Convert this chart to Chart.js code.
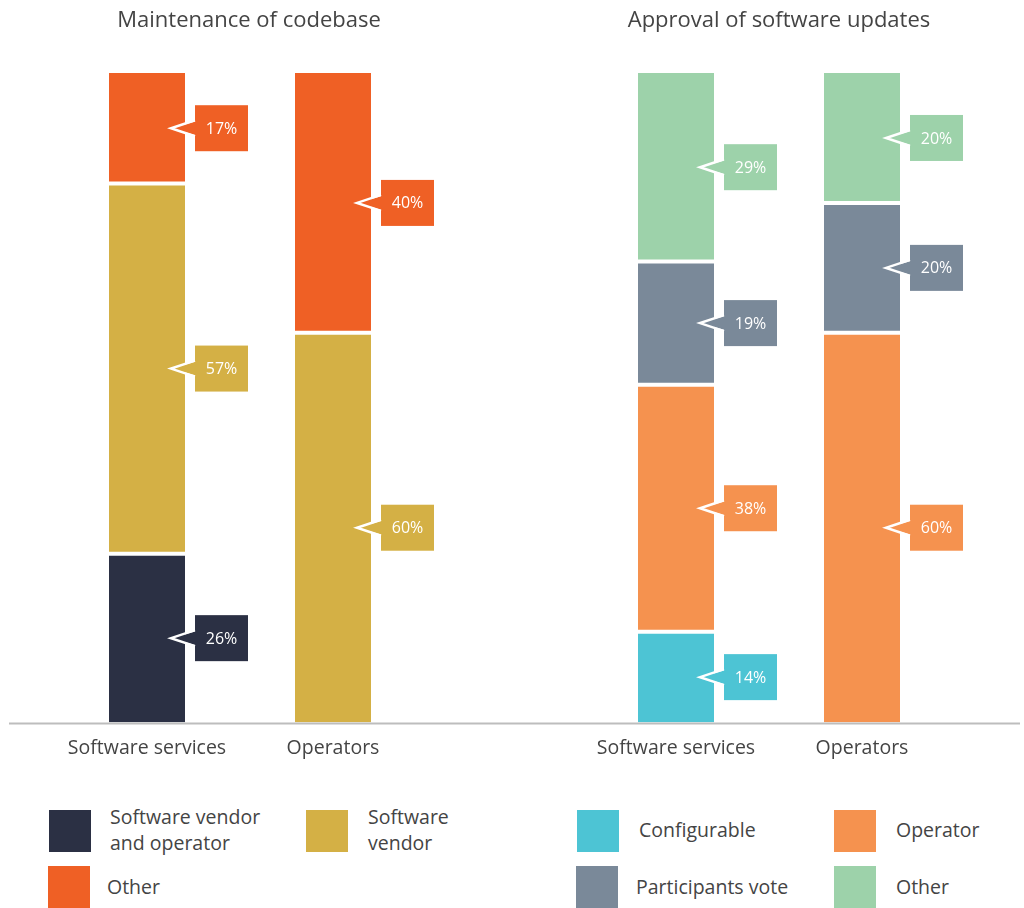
<!DOCTYPE html>
<html>
<head>
<meta charset="utf-8">
<script src="https://cdn.jsdelivr.net/npm/chart.js@4"></script>
<style>
  body { margin: 0; background: #fff; font-family: 'Open Sans', sans-serif; color: #444; }
  #wrap { position: relative; width: 1024px; height: 908px; overflow: hidden; }
  canvas { position: absolute; top: 0; }
  .titulo { position: absolute; top: 3px; width: 500px; text-align: center; font-size: 22px; line-height: 30px; color: #444; }
  .key { position: absolute; width: 42px; height: 42px; }
  .lbl { position: absolute; font-size: 19.5px; line-height: 26px; color: #444; }
</style>
</head>
<body>
<div id="wrap">
  <canvas id="grafico1" width="512" height="774" style="left:0"></canvas>
  <canvas id="grafico2" width="512" height="774" style="left:512px"></canvas>
  <div id="titulos"></div>
  <div id="legenda"></div>
</div>
<script>
// dados
var categorias = ['Software services', 'Operators'];

var titulo1 = 'Maintenance of codebase';
var series1 = ['Software vendor and operator', 'Software vendor', 'Other'];
var vendorOperator = [26, 0];
var vendor = [57, 60];
var outro1 = [17, 40];

var titulo2 = 'Approval of software updates';
var series2 = ['Configurable', 'Operator', 'Participants vote', 'Other'];
var configuravel = [14, 0];
var operador = [38, 60];
var votacao = [19, 20];
var outro2 = [29, 20];

var cores1 = ['#2b3044', '#d4b045', '#ef6025'];
var cores2 = ['#4dc4d4', '#f5924f', '#7a8999', '#9dd2aa'];

// borda branca entre os blocos, sem borda no fundo e no topo
function bordas(ctx) {
  var ds = ctx.chart.data.datasets;
  var j = ctx.dataIndex, i = ctx.datasetIndex;
  var primeiro = -1, ultimo = -1;
  for (var k = 0; k < ds.length; k++) {
    if (ds[k].data[j] > 0) { if (primeiro < 0) primeiro = k; ultimo = k; }
  }
  return { top: i === ultimo ? 0 : 2, bottom: i === primeiro ? 0 : 2, left: 0, right: 0 };
}

// caixinhas com a porcentagem
var etiquetas = {
  id: 'etiquetas',
  afterDatasetsDraw: function (chart) {
    var c = chart.ctx;
    chart.data.datasets.forEach(function (ds, i) {
      chart.getDatasetMeta(i).data.forEach(function (bar, j) {
        var v = ds.data[j];
        if (!v) return;
        var p = bar.getProps(['x', 'y', 'base', 'width'], true);
        var meio = (p.y + p.base) / 2;
        var bx = p.x + p.width / 2 + 10;
        c.save();
        c.fillStyle = ds.backgroundColor;
        c.fillRect(bx, meio - 23, 53, 46);
        c.beginPath();
        c.moveTo(bx + 1, meio - 7);
        c.lineTo(bx - 23, meio);
        c.lineTo(bx + 1, meio + 7);
        c.closePath();
        c.fill();
        c.beginPath();
        c.moveTo(bx, meio - 8);
        c.lineTo(bx - 24, meio);
        c.lineTo(bx, meio + 8);
        c.strokeStyle = '#fff';
        c.lineWidth = 2.5;
        c.stroke();
        c.fillStyle = '#fff';
        c.font = '16px "Open Sans"';
        c.textAlign = 'center';
        c.textBaseline = 'middle';
        c.fillText(v + '%', bx + 26.5, meio + 1);
        c.restore();
      });
    });
  }
};

// linha do eixo x
function linhaEixo(x0, x1) {
  return {
    id: 'linhaEixo',
    afterDatasetsDraw: function (chart) {
      var c = chart.ctx, y = chart.chartArea.bottom + 1;
      c.save();
      c.strokeStyle = '#bdbdbd';
      c.lineWidth = 2;
      c.beginPath();
      c.moveTo(x0, y);
      c.lineTo(x1, y);
      c.stroke();
      c.restore();
    }
  };
}

function criarGrafico(nome, nomes, valores, cores, padding, eixo) {
  var datasets = nomes.map(function (n, i) {
    return {
      label: n,
      data: valores[i],
      backgroundColor: cores[i],
      borderColor: '#fff',
      borderWidth: bordas,
      borderSkipped: false,
      categoryPercentage: 1,
      barPercentage: 76 / 186
    };
  });
  return new Chart(document.getElementById(nome).getContext('2d'), {
    type: 'bar',
    data: { labels: categorias, datasets: datasets },
    options: {
      responsive: false,
      animation: false,
      layout: { padding: { left: padding[0], right: padding[1], top: 73, bottom: 0 } },
      plugins: {
        legend: { display: false },
        tooltip: { enabled: false },
        title: { display: false }
      },
      scales: {
        x: {
          stacked: true,
          grid: { display: false, drawTicks: false },
          border: { display: false },
          ticks: { color: '#444', font: { family: 'Open Sans', size: 19.5 }, padding: 14 }
        },
        y: { stacked: true, display: false, min: 0, max: 100 }
      }
    },
    plugins: [etiquetas, linhaEixo(eixo[0], eixo[1])]
  });
}

criarGrafico('grafico1', series1, [vendorOperator, vendor, outro1], cores1, [54, 86], [9, 512]);
criarGrafico('grafico2', series2, [configuravel, operador, votacao, outro2], cores2, [71, 69], [0, 508]);

// titulos
document.getElementById('titulos').innerHTML =
  '<div class="titulo" style="left:-1px">' + titulo1 + '</div>' +
  '<div class="titulo" style="left:529px">' + titulo2 + '</div>';

// legenda
var legenda = [
  [49, 810, cores1[0], 110, 804, 'Software vendor<br>and operator'],
  [306, 810, cores1[1], 368, 804, 'Software<br>vendor'],
  [48, 866, cores1[2], 107, 874, series1[2]],
  [577, 810, cores2[0], 639, 817, series2[0]],
  [834, 810, cores2[1], 896, 817, series2[1]],
  [576, 866, cores2[2], 636, 874, series2[2]],
  [834, 866, cores2[3], 896, 874, series2[3]]
];
var html = '';
legenda.forEach(function (l) {
  html += '<div class="key" style="left:' + l[0] + 'px;top:' + l[1] + 'px;background:' + l[2] + '"></div>';
  html += '<div class="lbl" style="left:' + l[3] + 'px;top:' + l[4] + 'px">' + l[5] + '</div>';
});
document.getElementById('legenda').innerHTML = html;
</script>
</body>
</html>
